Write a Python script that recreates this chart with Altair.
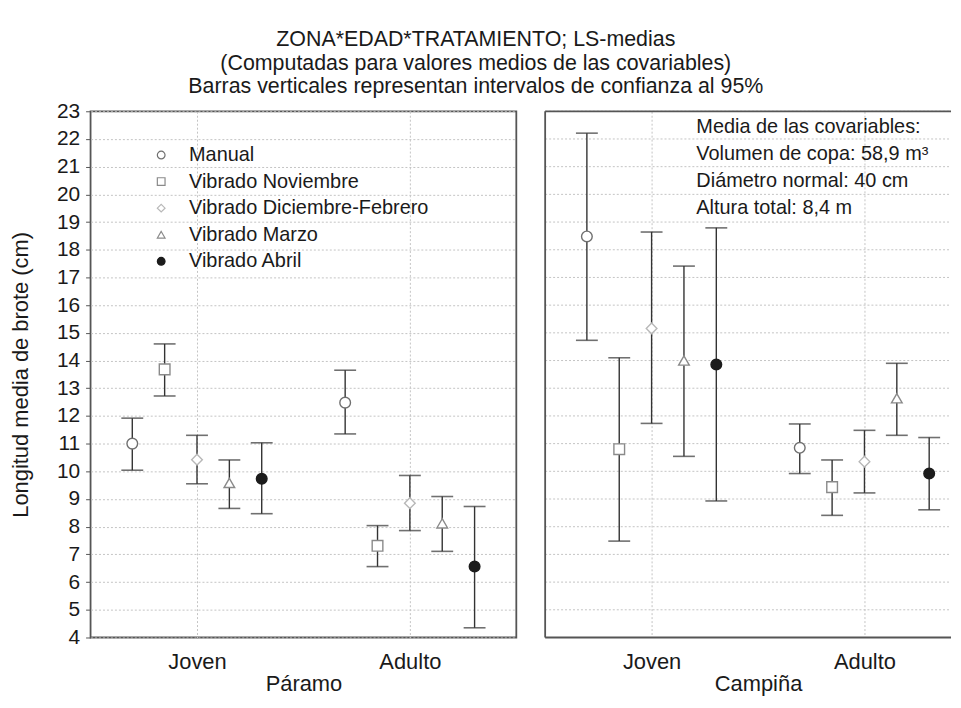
import json
import altair as alt
import pandas as pd

FONT = "Liberation Sans"

title_lines = [
    "ZONA*EDAD*TRATAMIENTO; LS-medias",
    "(Computadas para valores medios de las covariables)",
    "Barras verticales representan intervalos de confianza al 95%",
]
y_title = "Longitud media de brote (cm)"
zones = ["Páramo", "Campiña"]
ages = ["Joven", "Adulto"]
treatments = ["Manual", "Vibrado Noviembre", "Vibrado Diciembre-Febrero",
              "Vibrado Marzo", "Vibrado Abril"]
y_ticks = list(range(4, 24))
covar_lines = [
    "Media de las covariables:",
    "Volumen de copa: 58,9 m³",
    "Diámetro normal: 40 cm",
    "Altura total: 8,4 m",
]

# LS-means and 95% confidence limits, by zone / age / treatment
paramo_joven_mean = [11.00, 13.68, 10.42, 9.58, 9.73]
paramo_joven_low = [10.04, 12.72, 9.55, 8.66, 8.47]
paramo_joven_high = [11.92, 14.60, 11.30, 10.41, 11.03]
paramo_adulto_mean = [12.48, 7.31, 8.85, 8.12, 6.56]
paramo_adulto_low = [11.35, 6.56, 7.86, 7.11, 4.35]
paramo_adulto_high = [13.65, 8.04, 9.85, 9.09, 8.73]
campina_joven_mean = [18.48, 10.80, 15.16, 14.00, 13.86]
campina_joven_low = [14.73, 7.48, 11.73, 10.54, 8.93]
campina_joven_high = [22.21, 14.10, 18.64, 17.41, 18.79]
campina_adulto_mean = [10.85, 9.43, 10.35, 12.64, 9.92]
campina_adulto_low = [9.92, 8.41, 9.22, 11.30, 8.61]
campina_adulto_high = [11.71, 10.41, 11.48, 13.90, 11.22]

groups = [
    ("Páramo", "Joven", paramo_joven_mean, paramo_joven_low, paramo_joven_high),
    ("Páramo", "Adulto", paramo_adulto_mean, paramo_adulto_low, paramo_adulto_high),
    ("Campiña", "Joven", campina_joven_mean, campina_joven_low, campina_joven_high),
    ("Campiña", "Adulto", campina_adulto_mean, campina_adulto_low, campina_adulto_high),
]
rows = []
for zone, age, means, lows, highs in groups:
    for t, m, lo, hi in zip(treatments, means, lows, highs):
        rows.append({"zona": zone, "edad": ages.index(age),
                     "ti": treatments.index(t), "trat": t,
                     "media": m, "inf": lo, "sup": hi})
df = pd.DataFrame(rows)
ticks_df = pd.DataFrame({"v": y_ticks})

shapes = ["circle", "square", "diamond", "triangle-up", "circle"]
strokes = ["#6f6f6f", "#8a8a8a", "#b8b8b8", "#8a8a8a", "#1c1c1c"]
fills = ["#ffffff", "#ffffff", "#ffffff", "#ffffff", "#1c1c1c"]

PW, PH = 428, 529     # full panel size
PW_RIGHT = 408        # right panel is cut by the page edge, as in the source
DODGE = 0.152         # spacing of treatments inside an age group (x units)
GRID_COLOR = "#c4c4c4"
GRID = dict(grid=True, gridColor=GRID_COLOR, gridDash=[2, 2], gridWidth=1)
FRAME = "#555555"
AGE_LABELS = json.dumps(ages, ensure_ascii=False)
MID = (len(treatments) - 1) / 2


def panel(zone, first):
    base = alt.Chart(df).transform_filter(
        alt.datum.zona == zone
    ).transform_calculate(
        pos=f"datum.edad + (datum.ti - {MID}) * {DODGE}"
    )
    w = PW if first else PW_RIGHT
    x_max = -0.5 + len(ages) * w / PW   # right panel: same scale, cut off
    x_scale = alt.Scale(domain=[-0.5, x_max], nice=False, zero=False)
    x_axis = alt.Axis(title=zone, values=list(range(len(ages))),
                      labelExpr=f"{AGE_LABELS}[datum.value]",
                      labelAngle=0, ticks=False, domain=False,
                      labelPadding=14, labelFontSize=22,
                      titleFontSize=22, titlePadding=1,
                      titleX=PW / 2, **GRID)
    x_enc = alt.X("pos:Q", scale=x_scale, axis=x_axis)
    y_scale = alt.Scale(domain=[4, 23], nice=False, zero=False)
    if first:
        y_axis = alt.Axis(title=y_title, values=y_ticks, tickSize=5,
                          tickColor="#555", labelPadding=6, titlePadding=24,
                          labelOverlap=False, domain=False, **GRID)
    else:
        y_axis = None

    rules = base.mark_rule(color="#333333", strokeWidth=1.4).encode(
        x=x_enc,
        y=alt.Y("inf:Q", scale=y_scale, axis=y_axis),
        y2="sup:Q",
    )
    cap_hi = base.mark_tick(color="#333333", size=22, thickness=1.6,
                            orient="horizontal").encode(
        x=x_enc, y=alt.Y("sup:Q", scale=y_scale, axis=y_axis))
    cap_lo = base.mark_tick(color="#333333", size=22, thickness=1.6,
                            orient="horizontal").encode(
        x=x_enc, y=alt.Y("inf:Q", scale=y_scale, axis=y_axis))
    legend = alt.Legend(title=None, orient="none", legendX=61, legendY=34,
                        labelFontSize=20, labelFont=FONT, labelColor="#1a1a1a",
                        labelLimit=500,
                        symbolSize=60, symbolStrokeWidth=1.2, rowPadding=6.7,
                        labelOffset=18, padding=0)
    pts = base.mark_point(size=115, strokeWidth=1.4, opacity=1).encode(
        x=x_enc,
        y=alt.Y("media:Q", scale=y_scale, axis=y_axis),
        shape=alt.Shape("trat:N", sort=treatments,
                        scale=alt.Scale(domain=treatments, range=shapes),
                        legend=legend),
        stroke=alt.Stroke("trat:N", sort=treatments,
                          scale=alt.Scale(domain=treatments, range=strokes),
                          legend=legend),
        fill=alt.Fill("trat:N", sort=treatments,
                      scale=alt.Scale(domain=treatments, range=fills),
                      legend=legend),
    )
    layers = [rules, cap_hi, cap_lo, pts]
    if first:
        return alt.layer(*layers).properties(width=PW, height=PH)

    one = pd.DataFrame({"k": [0]})
    hgrid = alt.Chart(ticks_df).mark_rule(
        color=GRID_COLOR, strokeWidth=1, strokeDash=[2, 2]).encode(
        y=alt.Y("v:Q", scale=y_scale, axis=None),
        x=alt.value(0), x2=alt.value(PW_RIGHT))
    note = alt.Chart(one).mark_text(
        text=covar_lines, align="left", baseline="middle",
        fontSize=20, font=FONT, color="#1a1a1a", lineHeight=27,
    ).encode(x=alt.value(152), y=alt.value(16))
    frame_top = alt.Chart(one).mark_rule(color=FRAME, strokeWidth=1.8).encode(
        x=alt.value(0), x2=alt.value(PW_RIGHT), y=alt.value(0))
    frame_bot = alt.Chart(one).mark_rule(color=FRAME, strokeWidth=1.8).encode(
        x=alt.value(0), x2=alt.value(PW_RIGHT), y=alt.value(PH))
    frame_left = alt.Chart(one).mark_rule(color=FRAME, strokeWidth=1.8).encode(
        x=alt.value(0), y=alt.value(0), y2=alt.value(PH))
    layers = [hgrid] + layers + [note, frame_top, frame_bot, frame_left]
    return alt.layer(*layers).properties(
        width=PW_RIGHT, height=PH,
        view=alt.ViewBackground(stroke="transparent"))


chart = alt.hconcat(panel("Páramo", True), panel("Campiña", False),
                    spacing=26).resolve_scale(
    shape="shared", stroke="shared", fill="shared"
).properties(
    title=alt.TitleParams(text=title_lines, fontSize=21.5, lineHeight=23.5,
                          font=FONT, fontWeight="normal", color="#1a1a1a",
                          anchor="middle", offset=2, dx=-5),
    padding={"left": 0, "top": 19, "right": 0, "bottom": 0},
    background="white",
).configure_view(
    stroke=FRAME, strokeWidth=1.8
).configure_axis(
    labelFont=FONT, titleFont=FONT, labelFontSize=21, titleFontSize=22,
    labelColor="#1a1a1a", titleColor="#1a1a1a", titleFontWeight="normal",
)

chart.save("out.html", embed_options={"renderer": "svg", "actions": False})
